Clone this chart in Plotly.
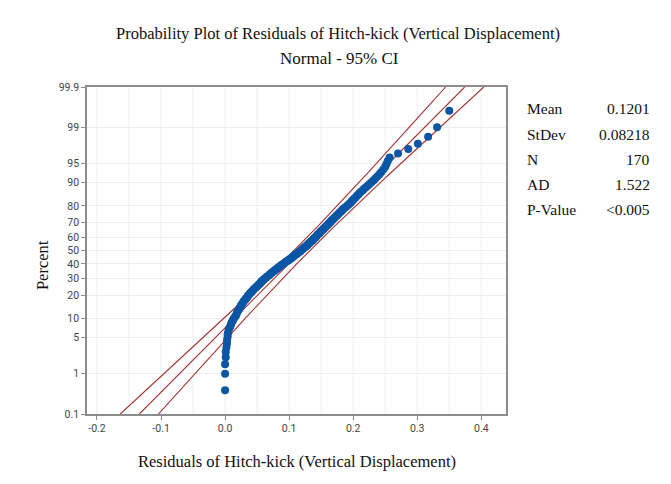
import numpy as np
import plotly.graph_objects as go
from statistics import NormalDist

# ---- data ----
residuals = [
    0.000, 0.000, 0.000, 0.001, 0.001, 0.002, 0.003, 0.003, 0.004, 0.004,
    0.005, 0.006, 0.008, 0.009, 0.010, 0.012, 0.013, 0.015, 0.017, 0.018,
    0.019, 0.020, 0.022, 0.023, 0.024, 0.025, 0.027, 0.028, 0.029, 0.031,
    0.032, 0.034, 0.035, 0.036, 0.038, 0.039, 0.041, 0.042, 0.044, 0.045,
    0.047, 0.049, 0.050, 0.052, 0.053, 0.055, 0.056, 0.057, 0.059, 0.060,
    0.062, 0.064, 0.065, 0.067, 0.069, 0.070, 0.072, 0.073, 0.075, 0.077,
    0.078, 0.080, 0.082, 0.083, 0.085, 0.086, 0.088, 0.090, 0.092, 0.093,
    0.095, 0.097, 0.099, 0.100, 0.102, 0.104, 0.105, 0.107, 0.108, 0.110,
    0.112, 0.113, 0.115, 0.116, 0.118, 0.119, 0.121, 0.122, 0.123, 0.125,
    0.126, 0.128, 0.129, 0.130, 0.132, 0.133, 0.134, 0.136, 0.137, 0.138,
    0.139, 0.141, 0.142, 0.143, 0.144, 0.145, 0.147, 0.148, 0.149, 0.150,
    0.152, 0.153, 0.154, 0.156, 0.157, 0.158, 0.160, 0.161, 0.162, 0.164,
    0.165, 0.166, 0.168, 0.169, 0.171, 0.172, 0.174, 0.175, 0.177, 0.178,
    0.180, 0.182, 0.183, 0.185, 0.187, 0.189, 0.191, 0.193, 0.195, 0.197,
    0.198, 0.200, 0.202, 0.204, 0.206, 0.208, 0.210, 0.212, 0.215, 0.217,
    0.220, 0.223, 0.226, 0.229, 0.232, 0.235, 0.238, 0.241, 0.244, 0.247,
    0.250, 0.252, 0.254, 0.257, 0.270, 0.286, 0.301, 0.317, 0.331, 0.350,
]
mean_val = 0.1201
stdev_val = 0.08218
n_val = 170
stat_labels = ["Mean", "StDev", "N", "AD", "P-Value"]
stat_values = ["0.1201", "0.08218", "170", "1.522", "&lt;0.005"]
y_tick_percents = [0.1, 1, 5, 10, 20, 30, 40, 50, 60, 70, 80, 90, 95, 99, 99.9]
y_tick_labels = ["0.1", "1", "5", "10", "20", "30", "40", "50", "60", "70", "80", "90", "95", "99", "99.9"]
x_tick_vals = [-0.2, -0.1, 0.0, 0.1, 0.2, 0.3, 0.4]
x_tick_labels = ["-0.2", "-0.1", "0.0", "0.1", "0.2", "0.3", "0.4"]

nd = NormalDist()
probit = lambda pct: nd.inv_cdf(pct / 100.0)

# plotting positions (median ranks, as Minitab)
xs = sorted(residuals)
n = len(xs)
zs = [nd.inv_cdf((i + 1 - 0.3) / (n + 0.4)) for i in range(n)]

# fitted line and 95% CI
zmax = probit(99.9)
zg = np.linspace(-zmax, zmax, 200)
fit = mean_val + stdev_val * zg
half = 1.959964 * stdev_val * np.sqrt(1.0 / n_val + zg ** 2 / (2.0 * (n_val - 1)))

red = "#A8302E"
blue = "#0A56A5"

fig = go.Figure()
fig.add_trace(go.Scatter(x=fit - half, y=zg, mode="lines", line=dict(color=red, width=1.1), hoverinfo="skip"))
fig.add_trace(go.Scatter(x=fit + half, y=zg, mode="lines", line=dict(color=red, width=1.1), hoverinfo="skip"))
fig.add_trace(go.Scatter(x=fit, y=zg, mode="lines", line=dict(color=red, width=1.1), hoverinfo="skip"))
fig.add_trace(go.Scatter(x=xs, y=zs, mode="markers",
                         marker=dict(color=blue, size=8, line=dict(width=0))))

tickfont = dict(family="Roboto, Open Sans, DejaVu Sans, sans-serif", size=10.5, color="#444444")
serif = "Liberation Serif, Times New Roman, serif"

fig.update_xaxes(range=[-0.2156, 0.4386], tickvals=x_tick_vals, ticktext=x_tick_labels,
                 showgrid=False, zeroline=False, showline=True, mirror=True,
                 linecolor="#8c8c8c", linewidth=1.5, ticks="outside", ticklen=4,
                 tickcolor="#8c8c8c", tickfont=tickfont)
fig.update_yaxes(range=[-zmax, zmax], tickvals=[probit(v) for v in y_tick_percents],
                 ticktext=y_tick_labels, showgrid=True, gridcolor="#eeeeee", gridwidth=1,
                 zeroline=False, showline=True, mirror=True, linecolor="#8c8c8c", linewidth=1.5,
                 ticks="outside", ticklen=4, tickcolor="#8c8c8c", tickfont=tickfont)

# vertical gridlines every 0.05
shapes = []
for g in np.arange(-0.2, 0.4001, 0.05):
    shapes.append(dict(type="line", xref="x", yref="paper", x0=g, x1=g, y0=0, y1=1,
                       line=dict(color="#eeeeee", width=1), layer="below"))

# plot area in viewport pixels: x 87..506.5, y 87..414
PX0, PX1, PY0, PY1 = 87.0, 506.5, 87.0, 414.0
def px(x):
    return (x - PX0) / (PX1 - PX0)
def py(y):
    return (PY1 - y) / (PY1 - PY0)

txt = dict(color="#111111", family=serif)
ann = [
    dict(text="Probability Plot of Residuals of Hitch-kick (Vertical Displacement)",
         x=px(338.5), y=py(33), font=dict(size=16.5, **txt)),
    dict(text="Normal - 95% CI", x=px(340), y=py(58), font=dict(size=17, **txt)),
    dict(text="Percent", x=px(42), y=py(265), textangle=-90, font=dict(size=16.5, **txt)),
    dict(text="Residuals of Hitch-kick (Vertical Displacement)", x=px(297), y=py(461),
         font=dict(size=16.5, **txt)),
]
for a in ann:
    a.update(xref="paper", yref="paper", xanchor="center", yanchor="middle", showarrow=False)
row_y = [109, 134, 159, 184, 209]
for lab, val, ry in zip(stat_labels, stat_values, row_y):
    ann.append(dict(text=lab, x=px(526), y=py(ry), xref="paper", yref="paper",
                    xanchor="left", yanchor="middle", showarrow=False, font=dict(size=15.5, **txt)))
    ann.append(dict(text=val, x=px(653), y=py(ry), xref="paper", yref="paper",
                    xanchor="right", yanchor="middle", showarrow=False, font=dict(size=15.5, **txt)))

# the page body has an 8px margin, so the figure is offset by 8px
W, H, OFF = 671, 484, 8
fig.update_layout(width=W - OFF, height=H - OFF,
                  margin=dict(l=PX0 - OFF, r=W - PX1, t=PY0 - OFF, b=H - PY1),
                  plot_bgcolor="white", paper_bgcolor="white", showlegend=False,
                  shapes=shapes, annotations=ann)
fig.write_html("out.html")
